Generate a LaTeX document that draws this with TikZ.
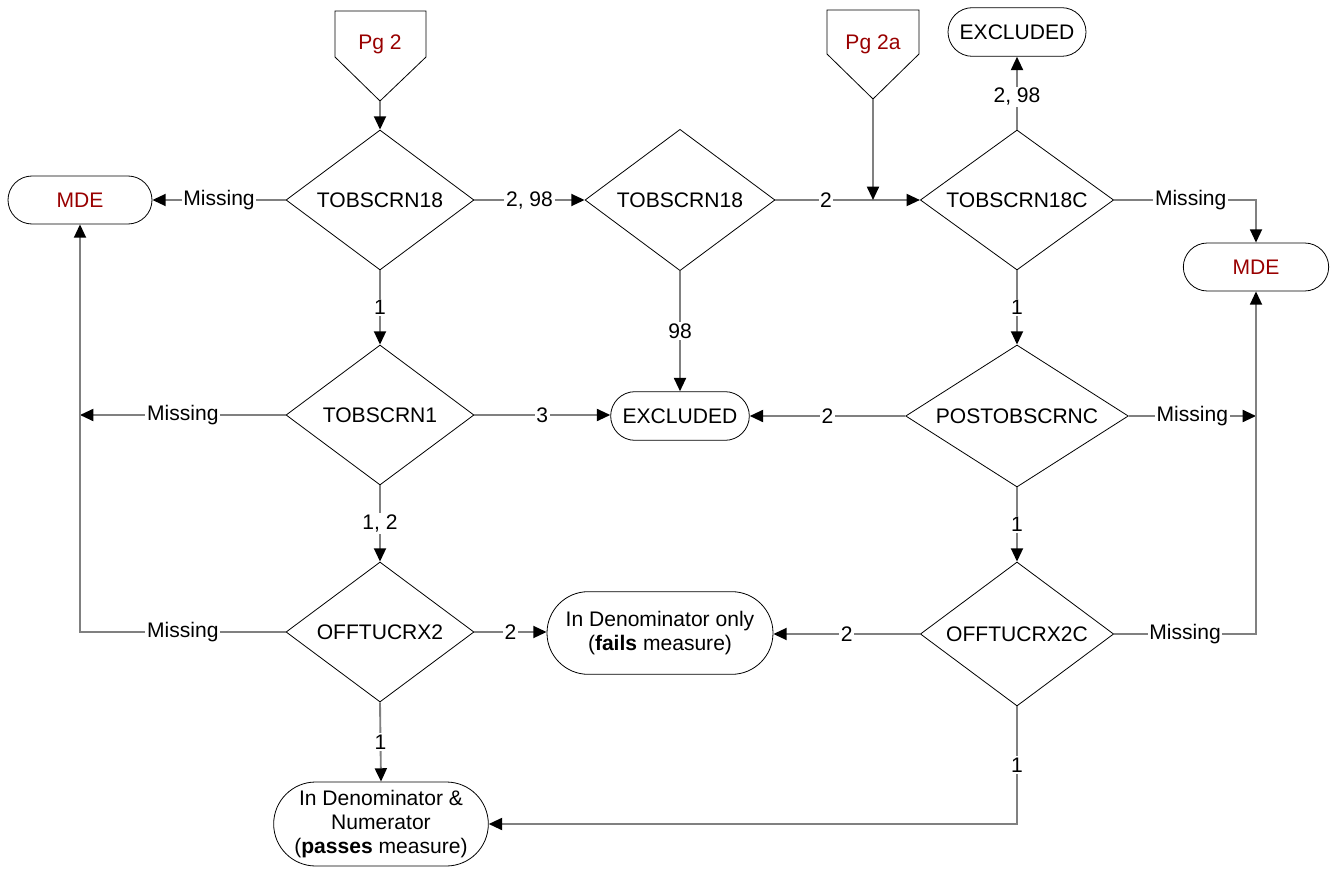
\documentclass[tikz,border=0pt]{standalone}
\usepackage{fontspec}
\setmainfont{Liberation Sans}
\usetikzlibrary{shapes.geometric,shapes.misc,arrows.meta}
\definecolor{pgred}{RGB}{153,0,0}
\definecolor{lgray}{RGB}{128,128,128}
\begin{document}
\begin{tikzpicture}[x=0.75pt,y=-0.75pt,
  every node/.style={font=\fontsize{15.8}{18.2}\selectfont},
  dec/.style={diamond, draw, line width=0.6pt, inner sep=0pt},
  term/.style={rounded rectangle, draw, line width=0.6pt, inner sep=0pt, align=center},
  conn/.style={draw=lgray, line width=1.4pt},
  arr/.style={conn, -{Triangle[length=10pt,width=9pt,color=black]}},
  lbl/.style={fill=white, inner sep=1.2pt},
  offpg/.style={draw, line width=0.6pt, fill=white}]
\useasboundingbox (0,0) rectangle (1332,870);

% off-page connectors
\draw[offpg] (335,11) -- (426,11) -- (426,57) -- (380,101) -- (335,57) -- cycle;
\node[text=pgred] (pg2) at (380,44) {Pg 2};
\coordinate (pg2tip) at (380,101);
\draw[offpg] (827,10) -- (919,10) -- (919,54) -- (873,99) -- (827,54) -- cycle;
\node[text=pgred] (pg2a) at (873,44) {Pg 2a};
\coordinate (pg2atip) at (873,99);

% decisions
\node[dec, aspect=1.34, minimum width=141pt, minimum height=105pt] (d1) at (380,200) {TOBSCRN18};
\node[dec, aspect=1.34, minimum width=142.5pt, minimum height=106pt] (d2) at (680,200) {TOBSCRN18};
\node[dec, aspect=1.38, minimum width=145pt, minimum height=105pt] (d3) at (1017,200) {TOBSCRN18C};
\node[dec, aspect=1.34, minimum width=141pt, minimum height=105pt] (t1) at (380,415) {TOBSCRN1};
\node[dec, aspect=1.57, minimum width=167pt, minimum height=106.5pt] (post) at (1017,416) {POSTOBSCRNC};
\node[dec, aspect=1.34, minimum width=141pt, minimum height=105pt] (o1) at (380,632) {OFFTUCRX2};
\node[dec, aspect=1.34, minimum width=145pt, minimum height=108pt] (o2) at (1017,634) {OFFTUCRX2C};

% terminals
\node[term, text=pgred, minimum width=108pt, minimum height=36pt] (mde1) at (80,200) {MDE};
\node[term, text=pgred, minimum width=109pt, minimum height=36pt] (mde2) at (1256,267) {MDE};
\node[term, minimum width=103.5pt, minimum height=36.5pt] (ex1) at (1017,32) {EXCLUDED};
\node[term, minimum width=104pt, minimum height=36.5pt] (ex2) at (680,416) {EXCLUDED};
\node[term, minimum width=169.5pt, minimum height=62pt] (fail) at (660,633) {In Denominator only\\(\textbf{fails} measure)};
\node[term, minimum width=161pt, minimum height=63pt] (pass) at (381,824) {In Denominator \&\\Numerator\\(\textbf{passes} measure)};

% helper coordinates
\coordinate (lt) at (80,415);
\coordinate (lb) at (80,632);
\coordinate (rt) at (1256,416);
\coordinate (rb) at (1256,634);

% connectors
\draw[arr] (pg2tip) -- (d1.north);
\draw[arr] (d1.west) -- node[lbl]{Missing} (mde1.east);
\draw[arr] (d1.east) -- node[lbl]{2, 98} (d2.west);
\draw[arr] (d1.south) -- node[lbl]{1} (t1.north);
\draw[arr] (d2.south) -- node[lbl]{98} (ex2.north);
\draw[arr] (d2.east) -- node[lbl,pos=0.35]{2} (d3.west);
\draw[arr] (pg2atip) -- (pg2atip |- d3.west);
\draw[arr] (d3.north) -- node[lbl,pos=0.45]{2, 98} (ex1.south);
\draw[arr] (d3.east) -- node[lbl,pos=0.54]{Missing} (mde2.north |- d3.east) -- (mde2.north);
\draw[arr] (d3.south) -- node[lbl]{1} (post.north);

\draw[arr] (t1.west) -- node[lbl]{Missing} (lt);
\draw[arr] (t1.east) -- node[lbl]{3} (ex2.west |- t1.east);
\draw[arr] (t1.south) -- node[lbl]{1, 2} (o1.north);
\draw[arr] (post.west) -- node[lbl]{2} (ex2.east);
\draw[arr] (post.east) -- node[lbl]{Missing} (rt);
\draw[arr] (post.south) -- node[lbl]{1} (o2.north);

\draw[arr] (o1.west) -- node[lbl]{Missing} (lb) -- (mde1.south);
\draw[arr] (o1.east) -- node[lbl]{2} (fail.west |- o1.east);
\draw[arr] (o1.south) -- node[lbl]{1} (pass.north);
\draw[arr] (o2.west) -- node[lbl]{2} (fail.east |- o2.west);
\draw[arr] (o2.east) -- node[lbl]{Missing} (rb) -- (mde2.south);
\draw[arr] (o2.south) -- node[lbl,pos=0.5]{1} (o2.south |- pass.east) -- (pass.east);
\end{tikzpicture}
\end{document}
